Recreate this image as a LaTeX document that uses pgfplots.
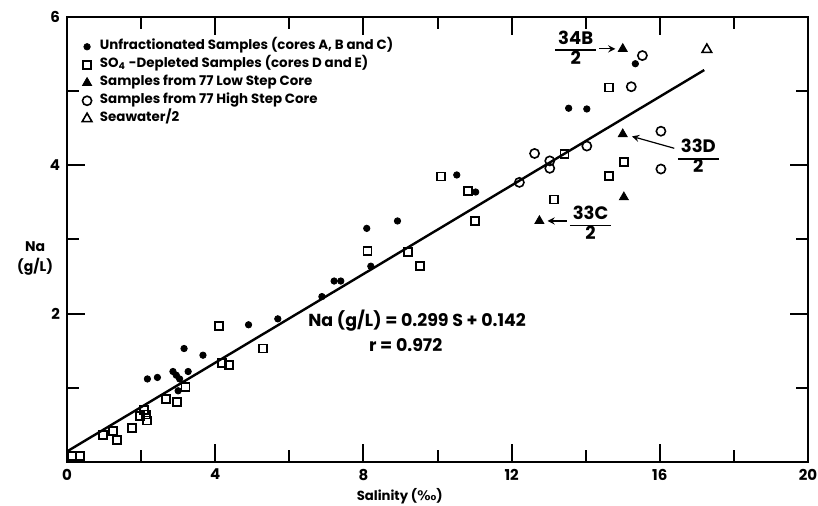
\documentclass[border=0pt]{standalone}
\usepackage{fontspec}
\setmainfont{Poppins}
\newfontfamily\dejavu{DejaVu Sans}
\usepackage{pgfplots}
\pgfplotsset{compat=1.18}
\pgfplotsset{
  dotleg/.style={legend image code/.code={\draw[##1] plot coordinates {(0pt,0pt)};}},
}
\begin{document}
\begin{tikzpicture}
\begin{axis}[
  name=ax,
  scale only axis,
  width=370.5pt, height=222.5pt,
  xmin=0, xmax=20, ymin=0, ymax=6,
  xtick={0,4,...,20}, minor xtick={2,6,...,18},
  ytick={2,4,6}, minor ytick={1,3,5},
  major tick length=9pt, minor tick length=6pt,
  tick style={black, line width=1pt},
  axis line style={line width=1.1pt},
  /pgf/number format/assume math mode=true,
  tick label style={font=\fontsize{7.5}{8}\selectfont\bfseries},
  xlabel={Salinity ({\dejavu\bfseries ‰})},
  ylabel={Na\\(g/L)},
  every axis x label/.style={at={(axis description cs:0.449,-0.076)},anchor=center,
    font=\fontsize{6.6}{7}\selectfont\bfseries},
  every axis y label/.style={at={(axis description cs:-0.043,0.458)},anchor=center,
    align=center,font=\fontsize{7}{10}\selectfont\bfseries},
  clip=false,
  legend style={at={(axis description cs:0.020,0.952)}, anchor=north west,
    draw=none, fill=none, inner sep=0pt, row sep=1pt, column sep=3pt,
    font=\fontsize{6.7}{8}\selectfont\bfseries,
    nodes={inner sep=1pt, text height=4.6pt, text depth=1.4pt}},
  legend cell align=left,
]
% unfractionated samples (cores A, B, C)
\addplot[only marks, dotleg, mark=*, mark size=1.6pt, black] coordinates {
  (2.17,1.12) (2.44,1.14) (2.86,1.22) (2.95,1.17) (3.04,1.12) (3.16,1.53)
  (3.27,1.22) (3.00,0.96) (3.67,1.44) (4.90,1.85) (5.69,1.93) (6.88,2.23)
  (7.21,2.44) (7.39,2.44) (8.09,3.15) (8.20,2.64) (8.92,3.25) (10.52,3.87)
  (11.03,3.64) (13.54,4.77) (14.03,4.76) (15.34,5.37)
};
\addlegendentry{Unfractionated Samples (cores A, B and C)}
% SO4-depleted samples (cores D, E)
\addplot[only marks, dotleg, mark=square, mark size=2pt, black, line width=0.9pt] coordinates {
  (0.14,0.08) (0.35,0.08) (0.98,0.36) (1.25,0.42) (1.35,0.30) (1.76,0.46)
  (1.96,0.62) (2.14,0.64) (2.17,0.56) (2.07,0.70) (2.68,0.85) (2.97,0.81)
  (3.20,1.01) (4.10,1.83) (4.19,1.33) (4.37,1.31) (5.28,1.53) (8.11,2.84)
  (9.21,2.83) (9.52,2.64) (10.10,3.85) (10.83,3.65) (11.01,3.25) (13.14,3.54)
  (13.43,4.15) (14.62,5.05) (14.63,3.86) (15.03,4.05)
};
\addlegendentry{SO\textsubscript{4} -Depleted Samples (cores D and E)}
% 77 low step core
\addplot[only marks, dotleg, mark=triangle*, mark size=2.6pt, black] coordinates {
  (15.00,5.57) (15.00,4.42) (15.03,3.57) (12.75,3.25)
};
\addlegendentry{Samples from 77 Low Step Core}
% 77 high step core
\addplot[only marks, dotleg, mark=o, mark size=2.3pt, black, line width=0.8pt] coordinates {
  (15.53,5.48) (15.23,5.06) (16.03,4.46) (12.62,4.16) (13.03,4.06) (13.03,3.96)
  (12.21,3.77) (14.03,4.26) (16.03,3.95)
};
\addlegendentry{Samples from 77 High Step Core}
% seawater / 2
\addplot[only marks, dotleg, mark=triangle, mark size=2.8pt, black, line width=0.8pt] coordinates {
  (17.27,5.56)
};
\addlegendentry{Seawater/2}
% regression line
\addplot[forget plot, black, line width=1.2pt] coordinates {(0,0.142) (17.2,5.285)};

\node[font=\fontsize{8.7}{10}\selectfont\bfseries] at (axis cs:9.45,1.905) {Na (g/L) = 0.299 S + 0.142};
\node[font=\fontsize{8.7}{10}\selectfont\bfseries] at (axis cs:9.14,1.57) {r = 0.972};

\def\arraystretch{0.85}\setlength{\arrayrulewidth}{0.9pt}
\node[font=\fontsize{9}{10}\selectfont\bfseries, inner sep=0pt] at (axis cs:13.73,5.55)
  {\begin{tabular}{@{\,}c@{\,}}34B\\\hline 2\end{tabular}};
\node[font=\fontsize{9}{10}\selectfont\bfseries, inner sep=0pt] at (axis cs:17.04,4.09)
  {\begin{tabular}{@{\,}c@{\,}}33D\\\hline 2\end{tabular}};
\node[font=\fontsize{9}{10}\selectfont\bfseries, inner sep=0pt] at (axis cs:14.13,3.19)
  {\begin{tabular}{@{\,}c@{\,}}33C\\\hline 2\end{tabular}};
\draw[-stealth, line width=0.6pt] (axis cs:14.37,5.57) -- (axis cs:14.80,5.57);
\draw[-stealth, line width=0.6pt] (axis cs:16.39,4.23) -- (axis cs:15.25,4.39);
\draw[-stealth, line width=0.6pt] (axis cs:13.49,3.25) -- (axis cs:12.97,3.25);
\end{axis}
\pgfresetboundingbox
\path[use as bounding box] ([shift={(-33.5pt,-22pt)}]ax.south west)
  rectangle ([shift={(5pt,8.5pt)}]ax.north east);
\end{tikzpicture}
\end{document}
